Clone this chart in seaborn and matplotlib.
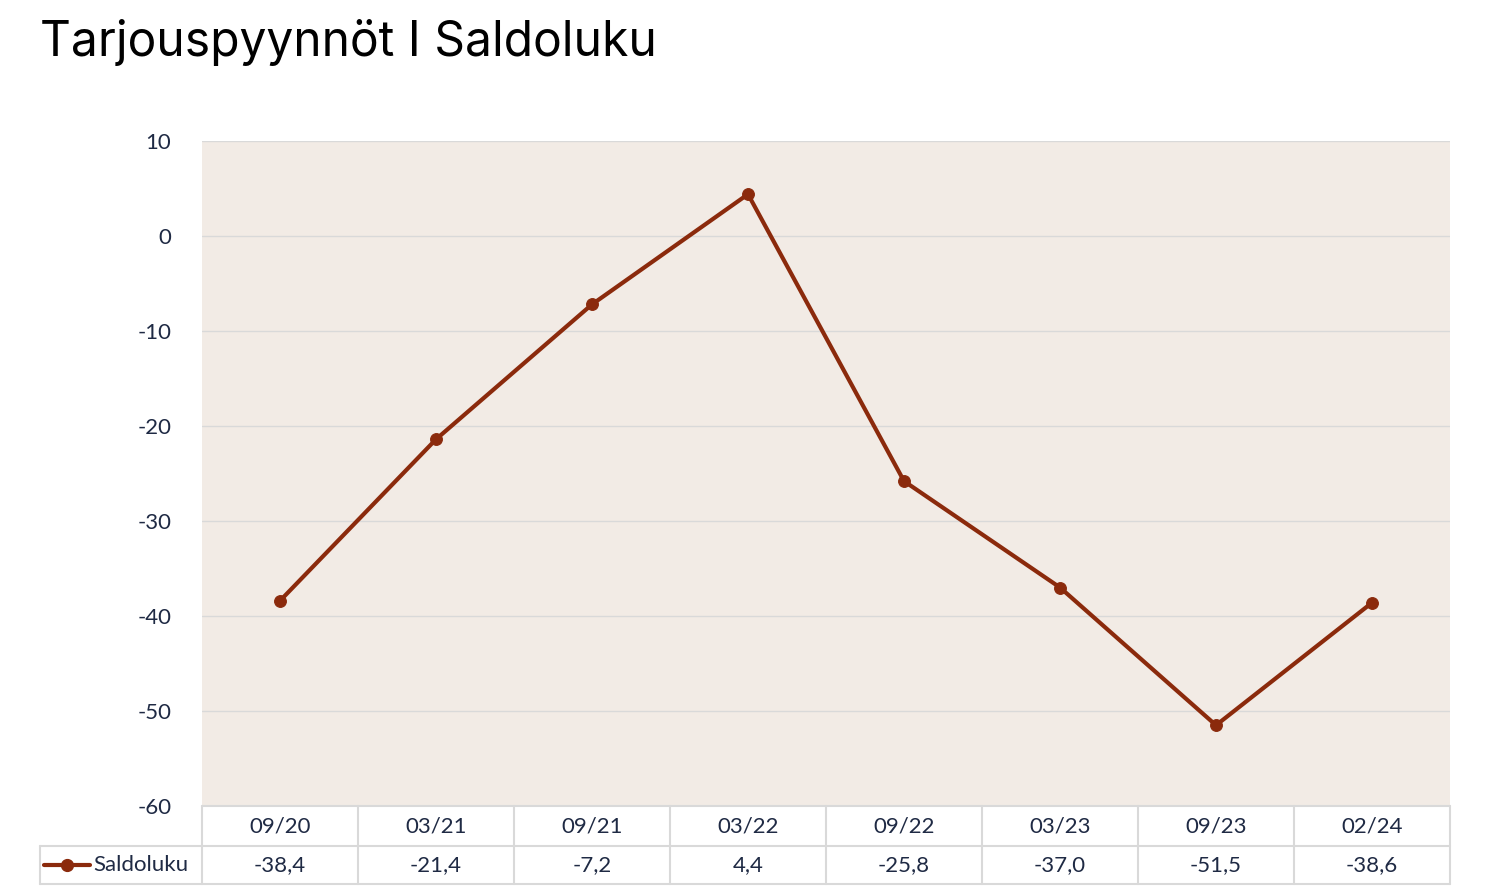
import numpy as np
import pandas as pd
import matplotlib
matplotlib.use("Agg")
import matplotlib.pyplot as plt
import seaborn as sns

periods = ["09/20", "03/21", "09/21", "03/22", "09/22", "03/23", "09/23", "02/24"]
saldoluku = [-38.4, -21.4, -7.2, 4.4, -25.8, -37.0, -51.5, -38.6]
series_name = "Saldoluku"
title = "Tarjouspyynnöt I Saldoluku"
y_ticks = [10, 0, -10, -20, -30, -40, -50, -60]

line_color = "#8B2A0C"
bg_color = "#F2EBE5"
grid_color = "#D9D9D9"
text_color = "#1F2A44"

sns.set_theme(style="white")
plt.rcParams["font.family"] = ["Lato", "DejaVu Sans"]
plt.rcParams["axes.unicode_minus"] = False

df = pd.DataFrame({"pos": np.arange(len(periods)), "value": saldoluku})

fig = plt.figure(figsize=(15, 8.96), dpi=100)
ax = fig.add_axes([202 / 1500, 1 - 806 / 896, 1248 / 1500, 665 / 896])
ax.set_facecolor(bg_color)

sns.lineplot(data=df, x="pos", y="value", ax=ax, color=line_color, linewidth=3,
             marker="o", markersize=8.5, markeredgecolor=line_color, zorder=3)

ax.set_xlim(-0.5, len(periods) - 0.5)
ax.set_ylim(-60, 10)
ax.set_yticks(y_ticks)
ax.set_yticklabels([str(t) for t in y_ticks], fontsize=16, color=text_color)
ax.tick_params(axis="y", length=0, pad=22)
ax.set_xticks([])
ax.set_xlabel("")
ax.set_ylabel("")
for s in ax.spines.values():
    s.set_visible(False)
ax.yaxis.grid(True, color=grid_color, linewidth=1)
ax.set_axisbelow(True)

# data table below the plot
tr = ax.get_xaxis_transform()
row1 = -40 / 665
row2 = -78 / 665
left_x = -0.5 - 162 / 156
n = len(periods)
lk = dict(color=grid_color, linewidth=1.5, transform=tr, clip_on=False)
ax.plot([-0.5, n - 0.5], [0, 0], **lk)
ax.plot([left_x, n - 0.5], [row1, row1], **lk)
ax.plot([left_x, n - 0.5], [row2, row2], **lk)
ax.plot([left_x, left_x], [row1, row2], **lk)
for i in range(n + 1):
    ax.plot([i - 0.5, i - 0.5], [0, row2], **lk)
for i, (p, v) in enumerate(zip(periods, saldoluku)):
    ax.text(i, row1 / 2, p, transform=tr, ha="center", va="center",
            fontsize=16, color=text_color)
    ax.text(i, (row1 + row2) / 2, f"{v:.1f}".replace(".", ","), transform=tr,
            ha="center", va="center", fontsize=16, color=text_color)

# legend key in table
ym = (row1 + row2) / 2
lx0 = left_x + 4 / 156
lx1 = left_x + 50 / 156
ax.plot([lx0, lx1], [ym, ym], color=line_color, linewidth=3, transform=tr, clip_on=False)
ax.plot([(lx0 + lx1) / 2], [ym], marker="o", markersize=8.5, color=line_color,
        transform=tr, clip_on=False)
ax.text(left_x + 53 / 156, ym, series_name, transform=tr, ha="left", va="center",
        fontsize=16, color=text_color)

fig.text(40 / 1500, 1 - 42 / 896, title, fontsize=34.5, color="black",
         ha="left", va="center", family=["Inter", "DejaVu Sans"])

fig.savefig("out.png", dpi=100, facecolor="white")
